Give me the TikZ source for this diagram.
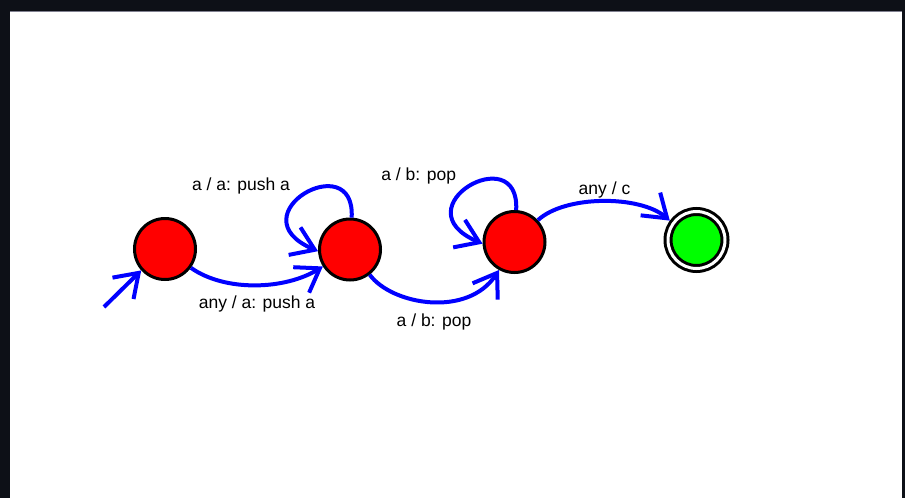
\documentclass[tikz,border=0pt]{standalone}
\usepackage{fontspec}
\setmainfont{Liberation Sans}
\usetikzlibrary{arrows.meta}
\definecolor{bgdark}{RGB}{13,16,23}
\definecolor{edgegray}{RGB}{128,128,144}
\begin{document}
\begin{tikzpicture}[x=1pt,y=-1pt,
  state/.style={circle, draw=black, line width=3pt, fill=red, minimum size=61pt, inner sep=0pt},
  final/.style={circle, draw=black, double=white, double distance=3pt, line width=3pt, fill=green, minimum size=57pt, inner sep=0pt, outer sep=4.5pt},
  edge/.style={draw=blue, line width=4pt, -{Straight Barb[length=22pt,width=30pt]}},
  lbl/.style={font=\fontsize{17.5}{20}\selectfont, anchor=base, inner sep=0pt, text=black}]
\useasboundingbox (0,0) rectangle (905,498);
\fill[bgdark] (0,0) rectangle (905,498);
\fill[white] (10,11) rectangle (902,498);
\draw[edgegray, line width=1pt] (10,11.5) -- (902,11.5);

\node[state] (c1) at (165,249) {};
\node[state] (c2) at (350,249.5) {};
\node[state] (c3) at (514.5,242) {};
\node[final] (c4) at (696.5,240) {};
\coordinate (init) at (104,307);

\draw[edge] (init) -- (c1.222);
\draw[edge] (c1.-36) .. controls (225,292) and (285,290) .. (c2.212);
\draw[edge] (c2.87) .. controls +(4,-72) and +(-84,-36) .. (c2.183);
\draw[edge] (c2.-52) .. controls (392,305) and (468,318) .. (c3.241);
\draw[edge] (c3.87) .. controls +(4,-72) and +(-84,-36) .. (c3.183);
\draw[edge] (c3.43) .. controls (565,195) and (640,195) .. (c4.144);

\node[lbl] (l1) at (241,190) {a / a: push a};
\node[lbl] (l2) at (257,308) {any / a: push a};
\node[lbl] (l3) at (418.7,180.5) {a / b: pop};
\node[lbl] (l4) at (434,326) {a / b: pop};
\node[lbl] (l5) at (604.5,194) {any / c};
\end{tikzpicture}
\end{document}
